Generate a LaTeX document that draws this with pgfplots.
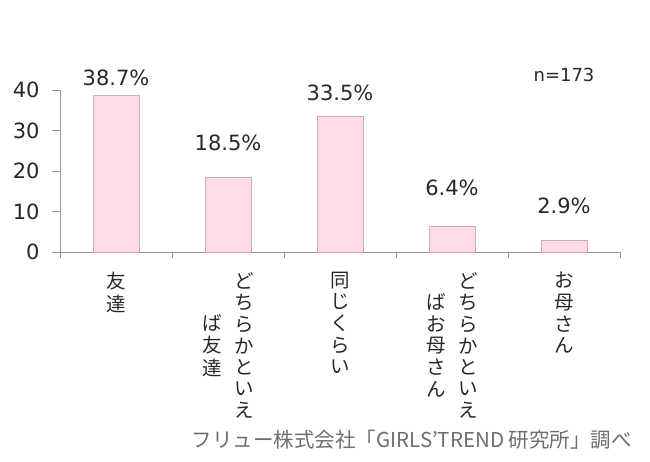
\documentclass[border=0pt]{standalone}
\usepackage{fontspec}
\setmainfont{DejaVu Sans}
\newfontfamily\jp{Noto Sans CJK JP}
\usepackage{pgfplots}
\pgfplotsset{compat=1.18}
\definecolor{barfill}{RGB}{255,219,229}
\definecolor{bardraw}{RGB}{214,168,180}
\definecolor{axgray}{RGB}{150,150,150}
\definecolor{txt}{RGB}{40,40,40}
\definecolor{foot}{RGB}{110,110,110}
\newcommand\vstack[1]{\begin{tabular}[c]{@{}c@{}}#1\end{tabular}}
\newcommand\lblfont{\fontsize{21bp}{21bp}\selectfont}
\newcommand\jlblfont{\fontsize{19.5bp}{21bp}\selectfont}
\begin{document}
\begin{tikzpicture}[x=1bp,y=1bp]
\path[use as bounding box] (0,0) rectangle (650,462);
\begin{axis}[
  at={(60bp,210bp)}, anchor=south west,
  scale only axis, width=560bp, height=162bp,
  xmin=-0.5, xmax=4.5, ymin=0, ymax=40,
  ytick={0,10,20,30,40},
  axis x line*=bottom, axis y line*=left,
  axis line style={draw=axgray, line width=0.8pt},
  tick style={draw=axgray, line width=0.8pt},
  tick align=outside,
  major tick length=8bp,
  xtick={0,1,2,3,4},
  x tick style={draw=none},
  xticklabels={
    {\vstack{友\\達}},
    {\vstack{ば\\友\\達}\hspace{13bp}\vstack{ど\\ち\\ら\\か\\と\\い\\え}},
    {\vstack{同\\じ\\く\\ら\\い}},
    {\vstack{ば\\お\\母\\さ\\ん}\hspace{13bp}\vstack{ど\\ち\\ら\\か\\と\\い\\え}},
    {\vstack{お\\母\\さ\\ん}}},
  x tick label style={anchor=north, font=\jp\jlblfont, text=txt, inner sep=0pt, yshift=-12bp},
  y tick label style={font=\lblfont, text=txt, xshift=-9bp},
  /pgf/number format/assume math mode=true,
  extra x ticks={-0.5,0.5,1.5,2.5,3.5,4.5},
  extra x tick labels={},
  extra x tick style={x tick style={draw=axgray, line width=0.8pt}, major tick length=6bp},
  clip=false,
]
\addplot[ybar, bar width=0.41, fill=barfill, draw=bardraw, line width=0.8pt]
  coordinates {(0,38.7) (1,18.5) (2,33.5) (3,6.4) (4,2.9)};
\node[font=\lblfont, text=txt] at (axis cs:0,43.0) {38.7\%};
\node[font=\lblfont, text=txt] at (axis cs:1,26.9) {18.5\%};
\node[font=\lblfont, text=txt] at (axis cs:2,39.3) {33.5\%};
\node[font=\lblfont, text=txt] at (axis cs:3,15.8) {6.4\%};
\node[font=\lblfont, text=txt] at (axis cs:4,11.4) {2.9\%};
\node[font=\fontsize{18bp}{19bp}\selectfont, text=txt] at (axis cs:4,43.7) {n=173};
\end{axis}
\node[anchor=east, font=\jp\fontsize{20.5bp}{22bp}\selectfont, text=foot, inner sep=0pt] at (632,22) {フリュー株式会社「GIRLS’TREND 研究所」調べ};
\end{tikzpicture}
\end{document}
